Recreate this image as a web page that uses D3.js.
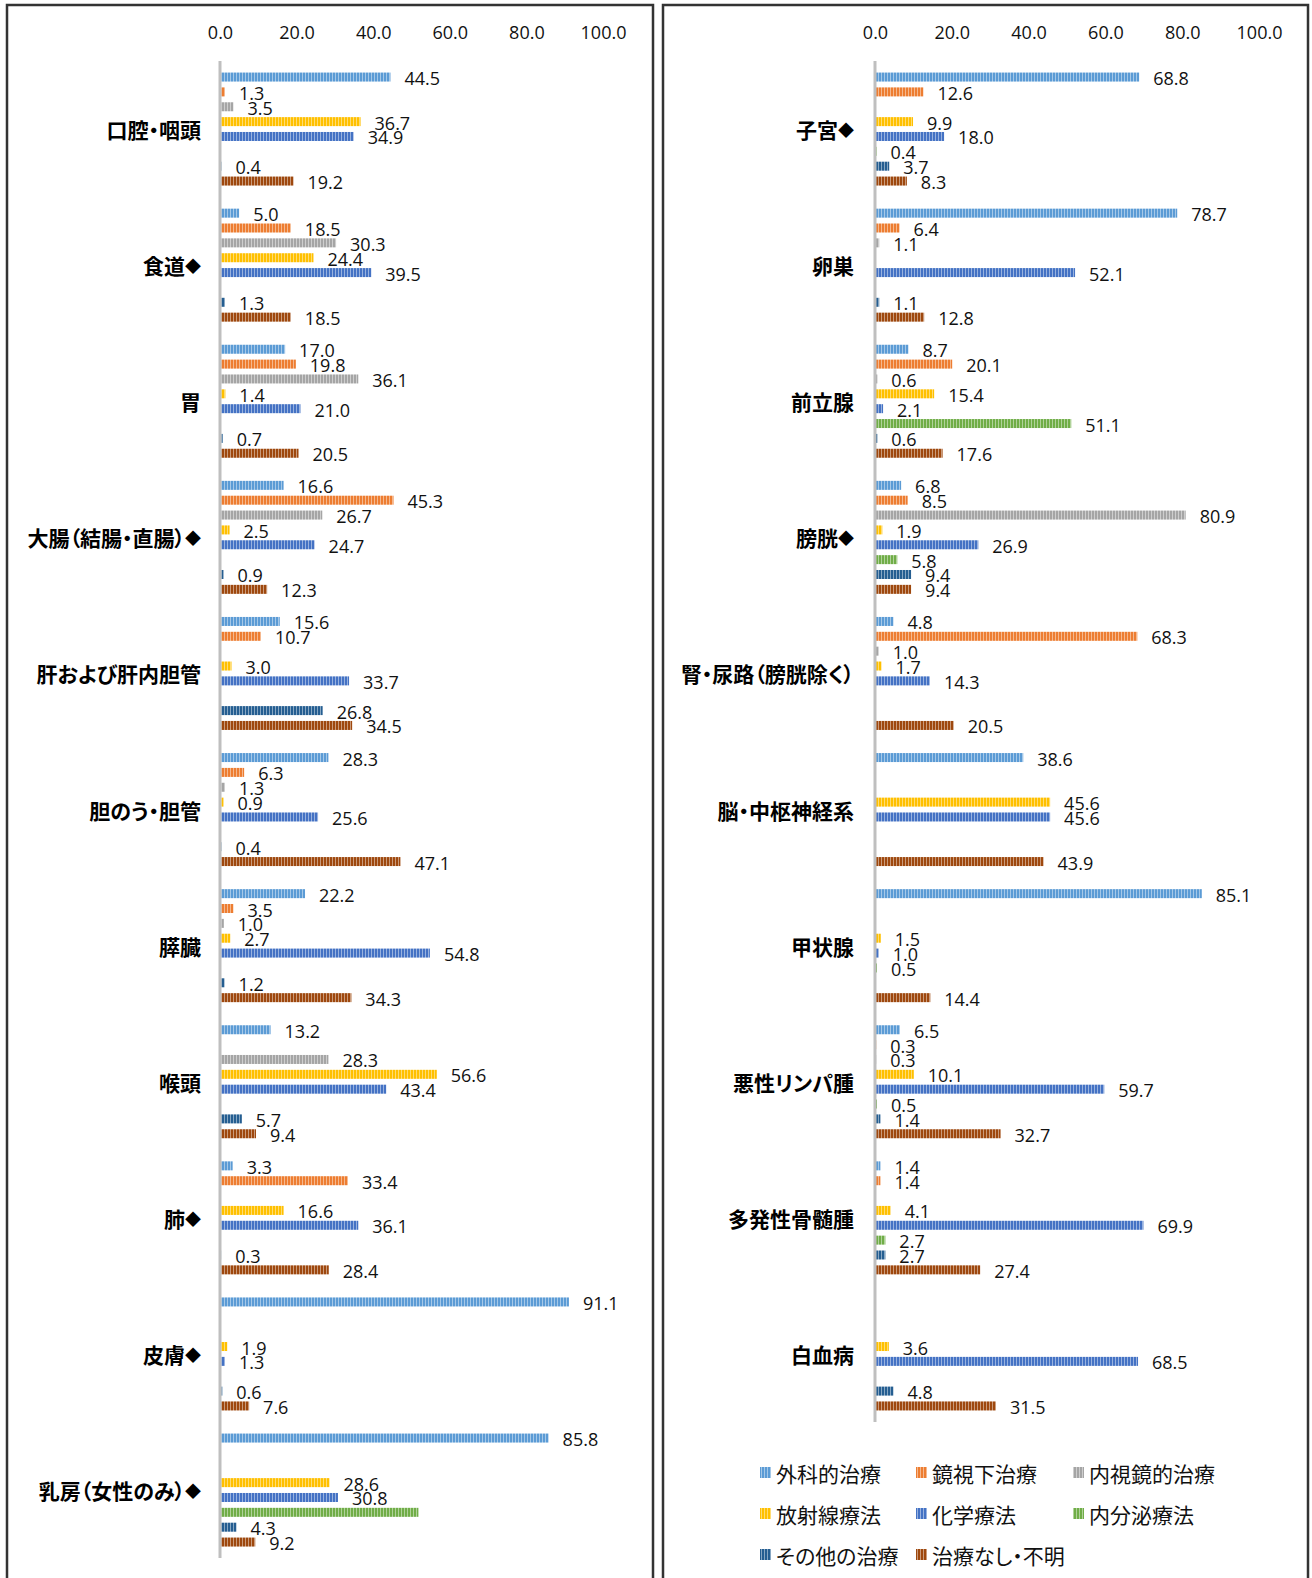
<!DOCTYPE html>
<html><head><meta charset="utf-8">
<script src="https://cdn.jsdelivr.net/npm/d3@7"></script>
<style>
html,body{margin:0;padding:0;background:#fff;}
svg{display:block;}
.num{font-family:"Open Sans","Liberation Sans",sans-serif;font-size:18px;fill:#111;}
.cat{font-family:"Noto Sans CJK JP",sans-serif;font-weight:700;font-size:21px;fill:#000;font-feature-settings:"palt";}
.dia{font-size:16px;}
.leg{font-family:"Noto Sans CJK JP",sans-serif;font-size:21px;fill:#111;font-feature-settings:"palt";}
</style></head>
<body>
<script>
// ---- data ----
const seriesNames = ["外科的治療","鏡視下治療","内視鏡的治療","放射線療法","化学療法","内分泌療法","その他の治療","治療なし・不明"];
const seriesColors = ["#5b9bd5","#ed7d31","#a5a5a5","#ffc000","#4472c4","#70ad47","#255e91","#9e480e"];
const tickValues = [0,20,40,60,80,100];

const leftCategories = ["口腔・咽頭","食道◆","胃","大腸（結腸・直腸）◆","肝および肝内胆管","胆のう・胆管","膵臓","喉頭","肺◆","皮膚◆","乳房（女性のみ）◆"];
const leftSurgery   = [44.5, 5.0, 17.0, 16.6, 15.6, 28.3, 22.2, 13.2, 3.3, 91.1, 85.8];
const leftLaparo    = [1.3, 18.5, 19.8, 45.3, 10.7, 6.3, 3.5, null, 33.4, null, null];
const leftEndoscopy = [3.5, 30.3, 36.1, 26.7, null, 1.3, 1.0, 28.3, null, null, null];
const leftRadiation = [36.7, 24.4, 1.4, 2.5, 3.0, 0.9, 2.7, 56.6, 16.6, 1.9, 28.6];
const leftChemo     = [34.9, 39.5, 21.0, 24.7, 33.7, 25.6, 54.8, 43.4, 36.1, 1.3, 30.8];
const leftHormone   = [null, null, null, null, null, null, null, null, null, null, 51.8];
const leftOther     = [0.4, 1.3, 0.7, 0.9, 26.8, 0.4, 1.2, 5.7, 0.3, 0.6, 4.3];
const leftNone      = [19.2, 18.5, 20.5, 12.3, 34.5, 47.1, 34.3, 9.4, 28.4, 7.6, 9.2];

const rightCategories = ["子宮◆","卵巣","前立腺","膀胱◆","腎・尿路（膀胱除く）","脳・中枢神経系","甲状腺","悪性リンパ腫","多発性骨髄腫","白血病"];
const rightSurgery   = [68.8, 78.7, 8.7, 6.8, 4.8, 38.6, 85.1, 6.5, 1.4, null];
const rightLaparo    = [12.6, 6.4, 20.1, 8.5, 68.3, null, null, 0.3, 1.4, null];
const rightEndoscopy = [null, 1.1, 0.6, 80.9, 1.0, null, null, 0.3, null, null];
const rightRadiation = [9.9, null, 15.4, 1.9, 1.7, 45.6, 1.5, 10.1, 4.1, 3.6];
const rightChemo     = [18.0, 52.1, 2.1, 26.9, 14.3, 45.6, 1.0, 59.7, 69.9, 68.5];
const rightHormone   = [0.4, null, 51.1, 5.8, null, null, 0.5, 0.5, 2.7, null];
const rightOther     = [3.7, 1.1, 0.6, 9.4, null, null, null, 1.4, 2.7, 4.8];
const rightNone      = [8.3, 12.8, 17.6, 9.4, 20.5, 43.9, 14.4, 32.7, 27.4, 31.5];

// bars drawn without a data label in the original
const unlabeled = [["乳房（女性のみ）◆","内分泌療法"]];

// ---- drawing ----
const W = 1312, H = 1578;
const svg = d3.select("body").append("svg").attr("width", W).attr("height", H);
const defs = svg.append("defs");
seriesColors.forEach((c, i) => {
  const p = defs.append("pattern").attr("id", "pat" + i)
    .attr("patternUnits", "userSpaceOnUse").attr("width", 3).attr("height", 3);
  p.append("rect").attr("width", 3).attr("height", 3).attr("fill", c);
  p.append("rect").attr("x", 2).attr("width", 1).attr("height", 3).attr("fill", "#fff").attr("opacity", 0.45);
});

// panel frames
svg.append("rect").attr("x", 7).attr("y", 5).attr("width", 646).attr("height", 1620)
  .attr("fill", "none").attr("stroke", "#333").attr("stroke-width", 2.5);
svg.append("rect").attr("x", 663).attr("y", 5).attr("width", 645).attr("height", 1620)
  .attr("fill", "none").attr("stroke", "#333").attr("stroke-width", 2.5);

function panel(categories, seriesArrays, x0, x1, labelX) {
  const x = d3.scaleLinear().domain([0, 100]).range([x0, x1]);
  const step = 136.1, top = 61;
  const y = d3.scaleBand().domain(categories).range([top, top + step * categories.length]);
  const inner = d3.scalePoint().domain(seriesNames).range([16.05, 120.05]);
  const barH = 9;
  const g = svg.append("g");

  // top axis
  const ax = g.append("g").attr("transform", "translate(0,39)")
    .call(d3.axisTop(x).tickValues(tickValues).tickFormat(d3.format(".1f")).tickSize(0).tickPadding(0));
  ax.select(".domain").remove();
  ax.selectAll("text").attr("class", "num").attr("font-size", null).attr("font-family", null)
    .attr("fill", null).attr("dy", 0);

  const rows = [];
  categories.forEach((c, ci) => {
    seriesNames.forEach((s, si) => {
      const v = seriesArrays[si][ci];
      if (v !== null && v !== undefined) rows.push({ c, s, si, v });
    });
  });

  g.selectAll("rect.bar").data(rows).enter().append("rect").attr("class", "bar")
    .attr("x", x(0))
    .attr("y", d => y(d.c) + inner(d.s) - barH / 2)
    .attr("width", d => x(d.v) - x(0))
    .attr("height", barH)
    .attr("fill", d => "url(#pat" + d.si + ")");

  g.selectAll("text.val").data(rows.filter(d => !unlabeled.some(u => u[0] === d.c && u[1] === d.s)))
    .enter().append("text").attr("class", "num val")
    .attr("x", d => x(d.v) + 14)
    .attr("y", d => y(d.c) + inner(d.s) + 1)
    .attr("dominant-baseline", "central")
    .text(d => d3.format(".1f")(d.v));

  // vertical axis line
  g.append("line").attr("x1", x(0)).attr("x2", x(0))
    .attr("y1", top).attr("y2", top + step * categories.length)
    .attr("stroke", "#bfbfbf").attr("stroke-width", 3);

  const cat = g.selectAll("text.cat").data(categories).enter().append("text").attr("class", "cat")
    .attr("x", labelX).attr("y", d => y(d) + y.bandwidth() / 2)
    .attr("text-anchor", "end").attr("dominant-baseline", "central");
  cat.each(function (d) {
    const t = d3.select(this);
    const parts = d.split("◆");
    t.append("tspan").text(parts[0]);
    if (parts.length > 1) t.append("tspan").attr("class", "dia").text("◆");
  });
}

panel(leftCategories,
  [leftSurgery, leftLaparo, leftEndoscopy, leftRadiation, leftChemo, leftHormone, leftOther, leftNone],
  220, 603, 201);
panel(rightCategories,
  [rightSurgery, rightLaparo, rightEndoscopy, rightRadiation, rightChemo, rightHormone, rightOther, rightNone],
  875, 1259, 854);

// legend
const legCols = [760, 916, 1073], legRows = [1473, 1514, 1555];
const leg = svg.append("g");
seriesNames.forEach((s, i) => {
  const lx = legCols[i % 3], ly = legRows[Math.floor(i / 3)];
  leg.append("rect").attr("x", lx).attr("y", ly - 6).attr("width", 11).attr("height", 11)
    .attr("fill", "url(#pat" + i + ")");
  leg.append("text").attr("class", "leg").attr("x", lx + 16).attr("y", ly)
    .attr("dominant-baseline", "central").text(s);
});
</script>
</body></html>
